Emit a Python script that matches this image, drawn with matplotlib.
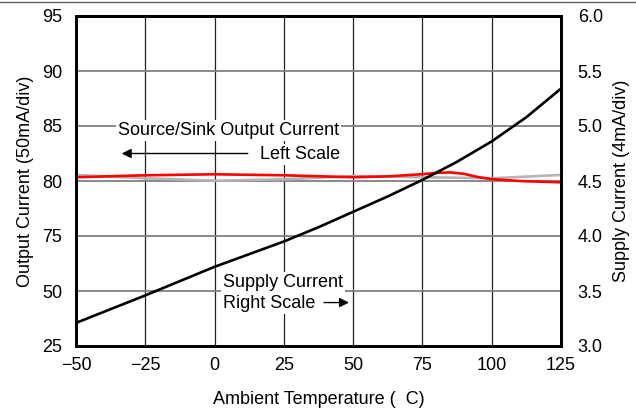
import matplotlib
matplotlib.use("Agg")
import matplotlib.pyplot as plt

plt.rcParams["font.family"] = ["Liberation Sans", "DejaVu Sans"]
plt.rcParams["font.size"] = 13

# ---------------- DATA ----------------
# temperature axis (deg C)
temp_ticks = [-50, -25, 0, 25, 50, 75, 100, 125]

# left scale: tick positions (evenly spaced) and the printed labels
left_pos = [65, 70, 75, 80, 85, 90, 95]
left_labels = ["25", "50", "75", "80", "85", "90", "95"]

# right scale (supply current)
right_ticks = [3.0, 3.5, 4.0, 4.5, 5.0, 5.5, 6.0]

# supply current (right scale)
supply_t = [-50, -37.5, -25, -12.5, 0, 12.5, 25, 37.5, 50, 62.5, 75, 87.5, 100, 112.5, 125]
supply_i = [3.21, 3.335, 3.46, 3.59, 3.72, 3.835, 3.95, 4.08, 4.22, 4.36, 4.51, 4.675, 4.86, 5.08, 5.34]

# source/sink output current (left scale)
red_t = [-50, -25, 0, 25, 50, 62.5, 75, 80, 85, 90, 95, 100, 110, 125]
red_v = [80.34, 80.52, 80.61, 80.52, 80.34, 80.42, 80.62, 80.74, 80.78, 80.65, 80.36, 80.17, 80.0, 79.88]
gray_t = [-50, -25, 0, 25, 50, 75, 100, 125]
gray_v = [80.55, 80.25, 80.03, 80.15, 80.45, 80.34, 80.25, 80.55]

# ---------------- PLOT ----------------
fig = plt.figure(figsize=(6.36, 4.08), dpi=100)
ax = fig.add_axes([76 / 636, 1 - 346 / 408, 485 / 636, 330 / 408])
ax2 = ax.twinx()

ax.plot(gray_t, gray_v, color="#b4b4b4", lw=1.9, zorder=3)
ax.plot(red_t, red_v, color="#ff0000", lw=1.9, zorder=4)
ax2.plot(supply_t, supply_i, color="black", lw=1.9, zorder=5)

ax.set_xlim(-50, 125)
ax.set_ylim(65, 95)
ax2.set_ylim(3.0, 6.0)

ax.set_xticks(temp_ticks)
ax.set_yticks(left_pos)
ax.set_yticklabels(left_labels)
ax2.set_yticks(right_ticks)
ax2.set_yticklabels([f"{v:.1f}" for v in right_ticks])

ax.tick_params(axis="both", length=0)
ax.tick_params(axis="y", pad=10)
ax.tick_params(axis="x", pad=8)
ax2.tick_params(axis="y", length=0, pad=12)

ax.xaxis.grid(True, color="#202020", lw=0.9)
ax.yaxis.grid(True, color="#808080", lw=1.3)
ax.set_axisbelow(True)

for a in (ax, ax2):
    for s in a.spines.values():
        s.set_linewidth(2.0)
        s.set_color("black")

ax.set_xlabel("Ambient Temperature (  C)", labelpad=12)
ax.set_ylabel("Output Current (50mA/div)", labelpad=6)
ax2.set_ylabel("Supply Current (4mA/div)", labelpad=7)

box = dict(facecolor="white", edgecolor="none", pad=1.5)
ax.text(5.0, 84.6, "Source/Sink Output Current", ha="center", va="center", bbox=box, zorder=6)
ax.text(45.3, 82.4, "Left Scale", ha="right", va="center", bbox=box, zorder=6)
ax.annotate("", xy=(-34.5, 82.5), xytext=(13, 82.5),
            arrowprops=dict(arrowstyle="-|>", color="black", lw=1.0, mutation_scale=14),
            zorder=6)

ax2.text(3.0, 3.575, "Supply Current", ha="left", va="center", bbox=box, zorder=6)
ax2.text(3.0, 3.39, "Right Scale", ha="left", va="center", bbox=box, zorder=6)
ax2.annotate("", xy=(49.5, 3.395), xytext=(38.5, 3.395),
             arrowprops=dict(arrowstyle="-|>", color="black", lw=1.0, mutation_scale=14),
             zorder=6)

# thin rule across the top of the figure
fig.add_artist(plt.Line2D([0, 1], [0.995, 0.995], color="#606060", lw=1.0, transform=fig.transFigure))

fig.savefig("out.png", dpi=100, facecolor="white")
